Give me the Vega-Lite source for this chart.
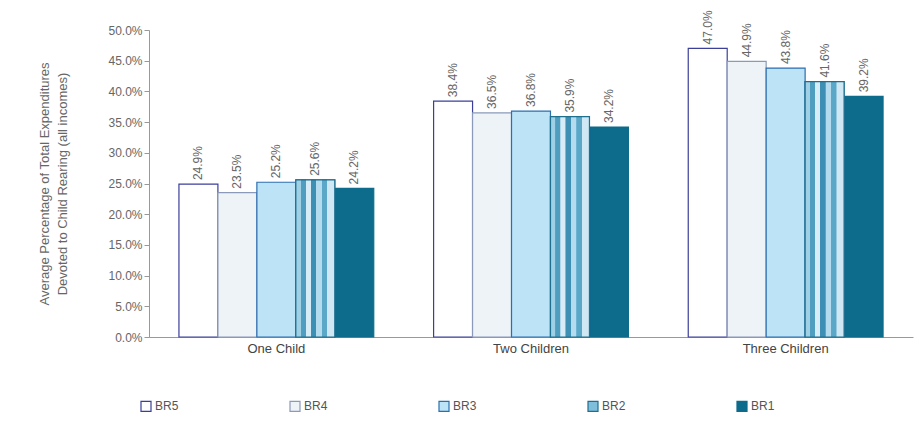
{
  "$schema": "https://vega.github.io/schema/vega-lite/v6.json",
  "width": 764,
  "height": 307,
  "autosize": {"type": "none"},
  "padding": {"left": 149, "top": 30, "right": 6, "bottom": 93},
  "background": "white",
  "config": {"view": {"stroke": null}, "font": "Liberation Sans"},
  "data": {
    "values": [
      {"group": "One Child", "series": "BR5", "value": 0.249},
      {"group": "One Child", "series": "BR4", "value": 0.235},
      {"group": "One Child", "series": "BR3", "value": 0.252},
      {"group": "One Child", "series": "BR2", "value": 0.256},
      {"group": "One Child", "series": "BR1", "value": 0.242},
      {"group": "Two Children", "series": "BR5", "value": 0.384},
      {"group": "Two Children", "series": "BR4", "value": 0.365},
      {"group": "Two Children", "series": "BR3", "value": 0.368},
      {"group": "Two Children", "series": "BR2", "value": 0.359},
      {"group": "Two Children", "series": "BR1", "value": 0.342},
      {"group": "Three Children", "series": "BR5", "value": 0.470},
      {"group": "Three Children", "series": "BR4", "value": 0.449},
      {"group": "Three Children", "series": "BR3", "value": 0.438},
      {"group": "Three Children", "series": "BR2", "value": 0.416},
      {"group": "Three Children", "series": "BR1", "value": 0.392}
    ]
  },
  "encoding": {
    "x": {
      "field": "group",
      "type": "nominal",
      "sort": ["One Child", "Two Children", "Three Children"],
      "scale": {"paddingInner": 0.235, "paddingOuter": 0.1176},
      "axis": {"title": null, "labelAngle": 0, "ticks": false, "domainColor": "#999999", "labelFontSize": 13, "labelColor": "#444444", "labelPadding": 5}
    },
    "xOffset": {
      "field": "series",
      "type": "nominal",
      "scale": {"domain": ["BR5", "BR4", "BR3", "BR2", "BR1"], "paddingInner": 0, "paddingOuter": 0}
    },
    "y": {
      "field": "value",
      "type": "quantitative",
      "scale": {"domain": [0, 0.5]},
      "axis": {
        "grid": false,
        "values": [0, 0.05, 0.1, 0.15, 0.2, 0.25, 0.3, 0.35, 0.4, 0.45, 0.5],
        "format": ".1%",
        "labelColor": "#666666",
        "labelFontSize": 12,
        "domainColor": "#999999",
        "tickColor": "#999999",
        "tickSize": 5,
        "title": ["Average Percentage of Total Expenditures", "Devoted to Child Rearing (all incomes)"],
        "titleFontSize": 13,
        "titleLineHeight": 18,
        "titleFontWeight": "normal",
        "titleColor": "#666666",
        "titlePadding": 38
      }
    }
  },
  "layer": [
    {
      "mark": {"type": "bar", "strokeWidth": 1.2},
      "encoding": {
        "fill": {
          "field": "series",
          "type": "nominal",
          "scale": {"domain": ["BR5", "BR4", "BR3", "BR2", "BR1"], "range": ["#ffffff", "#eef3f8", "#bde3f6", "#7fbfdb", "#0d6b8c"]},
          "legend": {
            "title": null,
            "orient": "none",
            "legendX": -9,
            "legendY": 370,
            "direction": "horizontal",
            "symbolType": "square",
            "symbolSize": 100,
            "symbolStrokeWidth": 1.2,
            "labelFontSize": 12,
            "labelColor": "#555555",
            "labelOffset": 3,
            "columnPadding": 108
          }
        },
        "stroke": {
          "field": "series",
          "type": "nominal",
          "scale": {"domain": ["BR5", "BR4", "BR3", "BR2", "BR1"], "range": ["#3b3f9a", "#8a9ab8", "#2b6fb0", "#1f6f8f", "#0d6b8c"]},
          "legend": null
        }
      }
    },
    {
      "transform": [{"filter": "datum.series === 'BR2'"}],
      "mark": {
        "type": "bar",
        "strokeWidth": 1.2,
        "stroke": "#1f6f8f",
        "fill": {
          "gradient": "linear",
          "x1": 0, "x2": 1, "y1": 0, "y2": 0,
          "stops": [
            {"offset": 0, "color": "#9fd0e6"},
            {"offset": 0.12, "color": "#9fd0e6"},
            {"offset": 0.13, "color": "#4f9ec0"},
            {"offset": 0.25, "color": "#4f9ec0"},
            {"offset": 0.26, "color": "#d6ecf6"},
            {"offset": 0.38, "color": "#d6ecf6"},
            {"offset": 0.39, "color": "#3d8fb3"},
            {"offset": 0.52, "color": "#3d8fb3"},
            {"offset": 0.53, "color": "#b5dcee"},
            {"offset": 0.66, "color": "#b5dcee"},
            {"offset": 0.67, "color": "#5aa7c8"},
            {"offset": 0.8, "color": "#5aa7c8"},
            {"offset": 0.81, "color": "#cfe8f4"},
            {"offset": 1, "color": "#cfe8f4"}
          ]
        }
      }
    },
    {
      "mark": {"type": "text", "angle": 270, "align": "left", "baseline": "middle", "dx": 4, "fontSize": 12, "color": "#666666"},
      "encoding": {"text": {"field": "value", "type": "quantitative", "format": ".1%"}}
    }
  ]
}
